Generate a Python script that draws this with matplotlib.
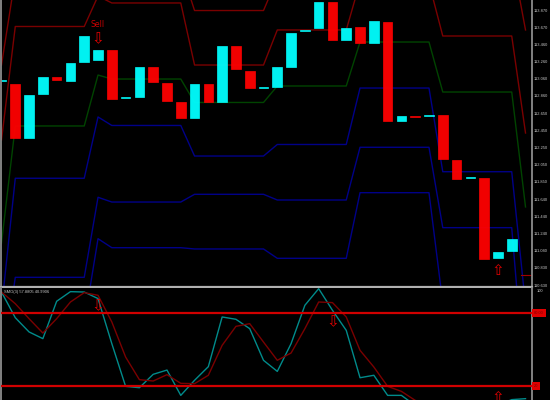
import matplotlib
matplotlib.use("Agg")
import matplotlib.pyplot as plt

#Candles, one open and close per bar
opens = [113.034, 112.998, 112.362, 112.881, 113.081, 113.034, 113.258, 113.281, 113.399, 112.834, 112.845, 113.199,
         113.010, 112.786, 112.598, 112.998, 112.786, 113.446, 113.152, 112.951, 112.963, 113.199, 113.623, 113.658,
         113.964, 113.517, 113.670, 113.481, 113.729, 112.563, 112.621, 112.621, 112.633, 112.103, 111.891, 111.891,
         110.949, 111.031]
closes = [113.046, 112.362, 112.869, 113.081, 113.046, 113.246, 113.564, 113.399, 112.822, 112.845, 113.199, 113.022,
          112.798, 112.598, 112.998, 112.786, 113.446, 113.175, 112.951, 112.963, 113.199, 113.599, 113.635, 113.964,
          113.517, 113.658, 113.481, 113.741, 112.563, 112.621, 112.609, 112.633, 112.115, 111.879, 111.903, 110.937,
          111.019, 111.173]

#Pivot band lines, vertices only
band_x = [0, 1, 6, 7, 8, 13, 14, 19, 20, 25, 26, 31, 32, 37, 38]
top_x = [0, 1, 13, 14, 19, 20, 37, 38]
top_band = [113.222, 114.259, 114.365, 113.864, 113.864, 114.247, 114.506, 113.635]
r1_band = [112.339, 113.676, 113.676, 114.035, 113.953, 113.953, 113.222, 113.222, 113.635, 113.635, 114.200, 114.188,
           113.564, 113.564, 112.421]
pivot_band = [111.125, 112.504, 112.504, 113.104, 113.057, 113.057, 112.781, 112.781, 112.975, 112.975, 113.493,
              113.493, 112.904, 112.904, 111.550]
s1_band = [110.348, 111.888, 111.888, 112.610, 112.510, 112.510, 112.150, 112.150, 112.286, 112.286, 112.951, 112.951,
           111.965, 111.965, 110.395]
s2_band = [109.594, 110.721, 110.721, 111.664, 111.608, 111.608, 111.699, 111.699, 111.632, 111.632, 112.253, 112.253,
           111.306, 111.306, 109.358]
s3_x = [6, 7, 8, 13, 14, 19, 20, 25, 26, 31, 32]
s3_band = [110.183, 111.176, 111.070, 111.070, 111.055, 111.055, 110.945, 110.945, 111.718, 111.718, 110.419]

#Stochastic lines
stoch_main = [97.2, 76.1, 64.4, 58.9, 89.6, 97.5, 97.2, 91.8, 54.8, 19.7, 18.6, 29.6, 33.1, 12.3, 24.7, 35.9, 76.7,
              74.8, 67.1, 41.1, 32.0, 54.8, 86.3, 99.97, 82.2, 65.7, 26.8, 28.8, 12.3, 12.3, 4.1, 3.0, 2.0, 2.0, 2.0,
              2.0, 4.1, 8.8, 9.6]
stoch_signal = [97.2, 87.6, 75.3, 63.5, 75.3, 89.0, 96.7, 94.5, 72.6, 43.8, 25.2, 24.1, 29.3, 22.2, 21.9, 28.8, 53.4,
                69.0, 71.2, 56.1, 41.1, 47.1, 67.1, 89.0, 88.5, 76.7, 49.3, 35.6, 19.7, 15.6, 8.2, 5.0, 3.0, 2.0, 2.0,
                2.0, 3.0]
stoch_levels = [80, 20]

price_ticks = [113.870, 113.668, 113.465, 113.263, 113.060, 112.858, 112.655, 112.453, 112.250, 112.048, 111.845,
               111.643, 111.440, 111.238, 111.035, 110.833, 110.630]
price_labels = ["113.870", "113.670", "113.460", "113.260", "113.060", "112.860", "112.650", "112.450", "112.250",
                "112.050", "111.850", "111.640", "111.440", "111.240", "111.040", "110.830", "110.630"]

#Bar index limits of the plot area
xlim = (-0.036, 38.47)
gray = "#8c8c8c"
label_font = "Liberation Sans"

fig = plt.figure(figsize=(5.5, 4), dpi=100, facecolor="black")
price_ax = fig.add_axes([1 / 550, 1 - 287 / 400, 531 / 550, 287 / 400], facecolor="black")
stoch_ax = fig.add_axes([1 / 550, 0, 531 / 550, 112 / 400], facecolor="black")

#Bands go under the candles
price_ax.plot(top_x, top_band, color="#7a0000", lw=1.0, zorder=1)
price_ax.plot(band_x, r1_band, color="#7a0000", lw=1.0, zorder=1)
price_ax.plot(band_x, pivot_band, color="#004400", lw=1.0, zorder=1)
price_ax.plot(band_x, s1_band, color="#000088", lw=1.0, zorder=1)
price_ax.plot(band_x, s2_band, color="#000088", lw=1.0, zorder=1)
price_ax.plot(s3_x, s3_band, color="#000088", lw=1.0, zorder=1)
price_ax.plot([37.67, 38.45], [110.749, 110.749], color="#a00000", lw=0.8, zorder=1)

#Candles
for i in range(len(opens)):
    color = "#00ffff" if closes[i] > opens[i] else "#ff0000"
    price_ax.bar(i, abs(closes[i] - opens[i]), bottom=min(opens[i], closes[i]), width=0.7, color=color,
                 edgecolor=color, lw=0.5, alpha=0.95, zorder=2)

price_ax.set_xlim(*xlim)
price_ax.set_ylim(110.607, 113.988)
price_ax.set_xticks([])
price_ax.yaxis.tick_right()
price_ax.set_yticks(price_ticks)
price_ax.set_yticklabels(price_labels, family=label_font)
price_ax.tick_params(axis="y", length=0, pad=1.2, labelsize=2.9, labelcolor="#c8c8c8")

#Signal marks
price_ax.text(7, 113.699, "Sell", color="#c80000", fontsize=5.6, ha="center", va="center", zorder=3)
price_ax.text(7, 113.532, "\u21e9", color="#e00000", fontsize=11, ha="center", va="center", zorder=3)
price_ax.text(36, 110.799, "\u21e7", color="#e00000", fontsize=11, ha="center", va="center", zorder=3)

#Stochastic panel
stoch_ax.plot(stoch_main, color="#008b8b", lw=1.0, zorder=2)
stoch_ax.plot(stoch_signal, color="#7a0000", lw=1.0, zorder=2)
for level in stoch_levels:
    stoch_ax.axhline(level, color="#d00000", lw=1.6, zorder=3)
stoch_ax.set_xlim(*xlim)
stoch_ax.set_ylim(8.5, 100.5)
stoch_ax.set_xticks([])
stoch_ax.set_yticks([])

stoch_ax.text(7, 86.3, "\u21e9", color="#e00000", fontsize=11, ha="center", va="center", zorder=4)
stoch_ax.text(24, 73.1, "\u21e9", color="#e00000", fontsize=11, ha="center", va="center", zorder=4)
stoch_ax.text(36, 10.9, "\u21e7", color="#e00000", fontsize=11, ha="center", va="center", zorder=4)

stoch_ax.text(0.005, 0.965, "SMO(3) 57.8805 40.9906", color="#c8c8c8", fontsize=2.9, family=label_font,
              transform=stoch_ax.transAxes, ha="left", va="center", zorder=5)
stoch_ax.text(1.008, 0.97, "100", color="#c8c8c8", fontsize=2.9, family=label_font, transform=stoch_ax.transAxes,
              ha="left", va="center")

#Level tags in the right margin
level_trans = stoch_ax.get_yaxis_transform()
box = dict(facecolor="#e00000", edgecolor="none", pad=1.2)
stoch_ax.text(1.004, 80, "80.00", color="#800000", fontsize=2.9, family=label_font, transform=level_trans, ha="left",
              va="center", bbox=box)
stoch_ax.text(1.004, 20, "20", color="#800000", fontsize=2.9, family=label_font, transform=level_trans, ha="left",
              va="center", bbox=box)

#Frame
for ax in [price_ax, stoch_ax]:
    for side in ["top", "bottom", "left", "right"]:
        ax.spines[side].set_visible(False)
    ax.spines["right"].set_visible(True)
    ax.spines["right"].set_color(gray)
    ax.spines["right"].set_linewidth(1.3)
    ax.spines["left"].set_visible(True)
    ax.spines["left"].set_color(gray)
    ax.spines["left"].set_linewidth(1.3)
price_ax.spines["bottom"].set_visible(True)
price_ax.spines["bottom"].set_color("#b0b0b0")
price_ax.spines["bottom"].set_linewidth(1.6)

fig.savefig("out.png", dpi=100, facecolor="black")
